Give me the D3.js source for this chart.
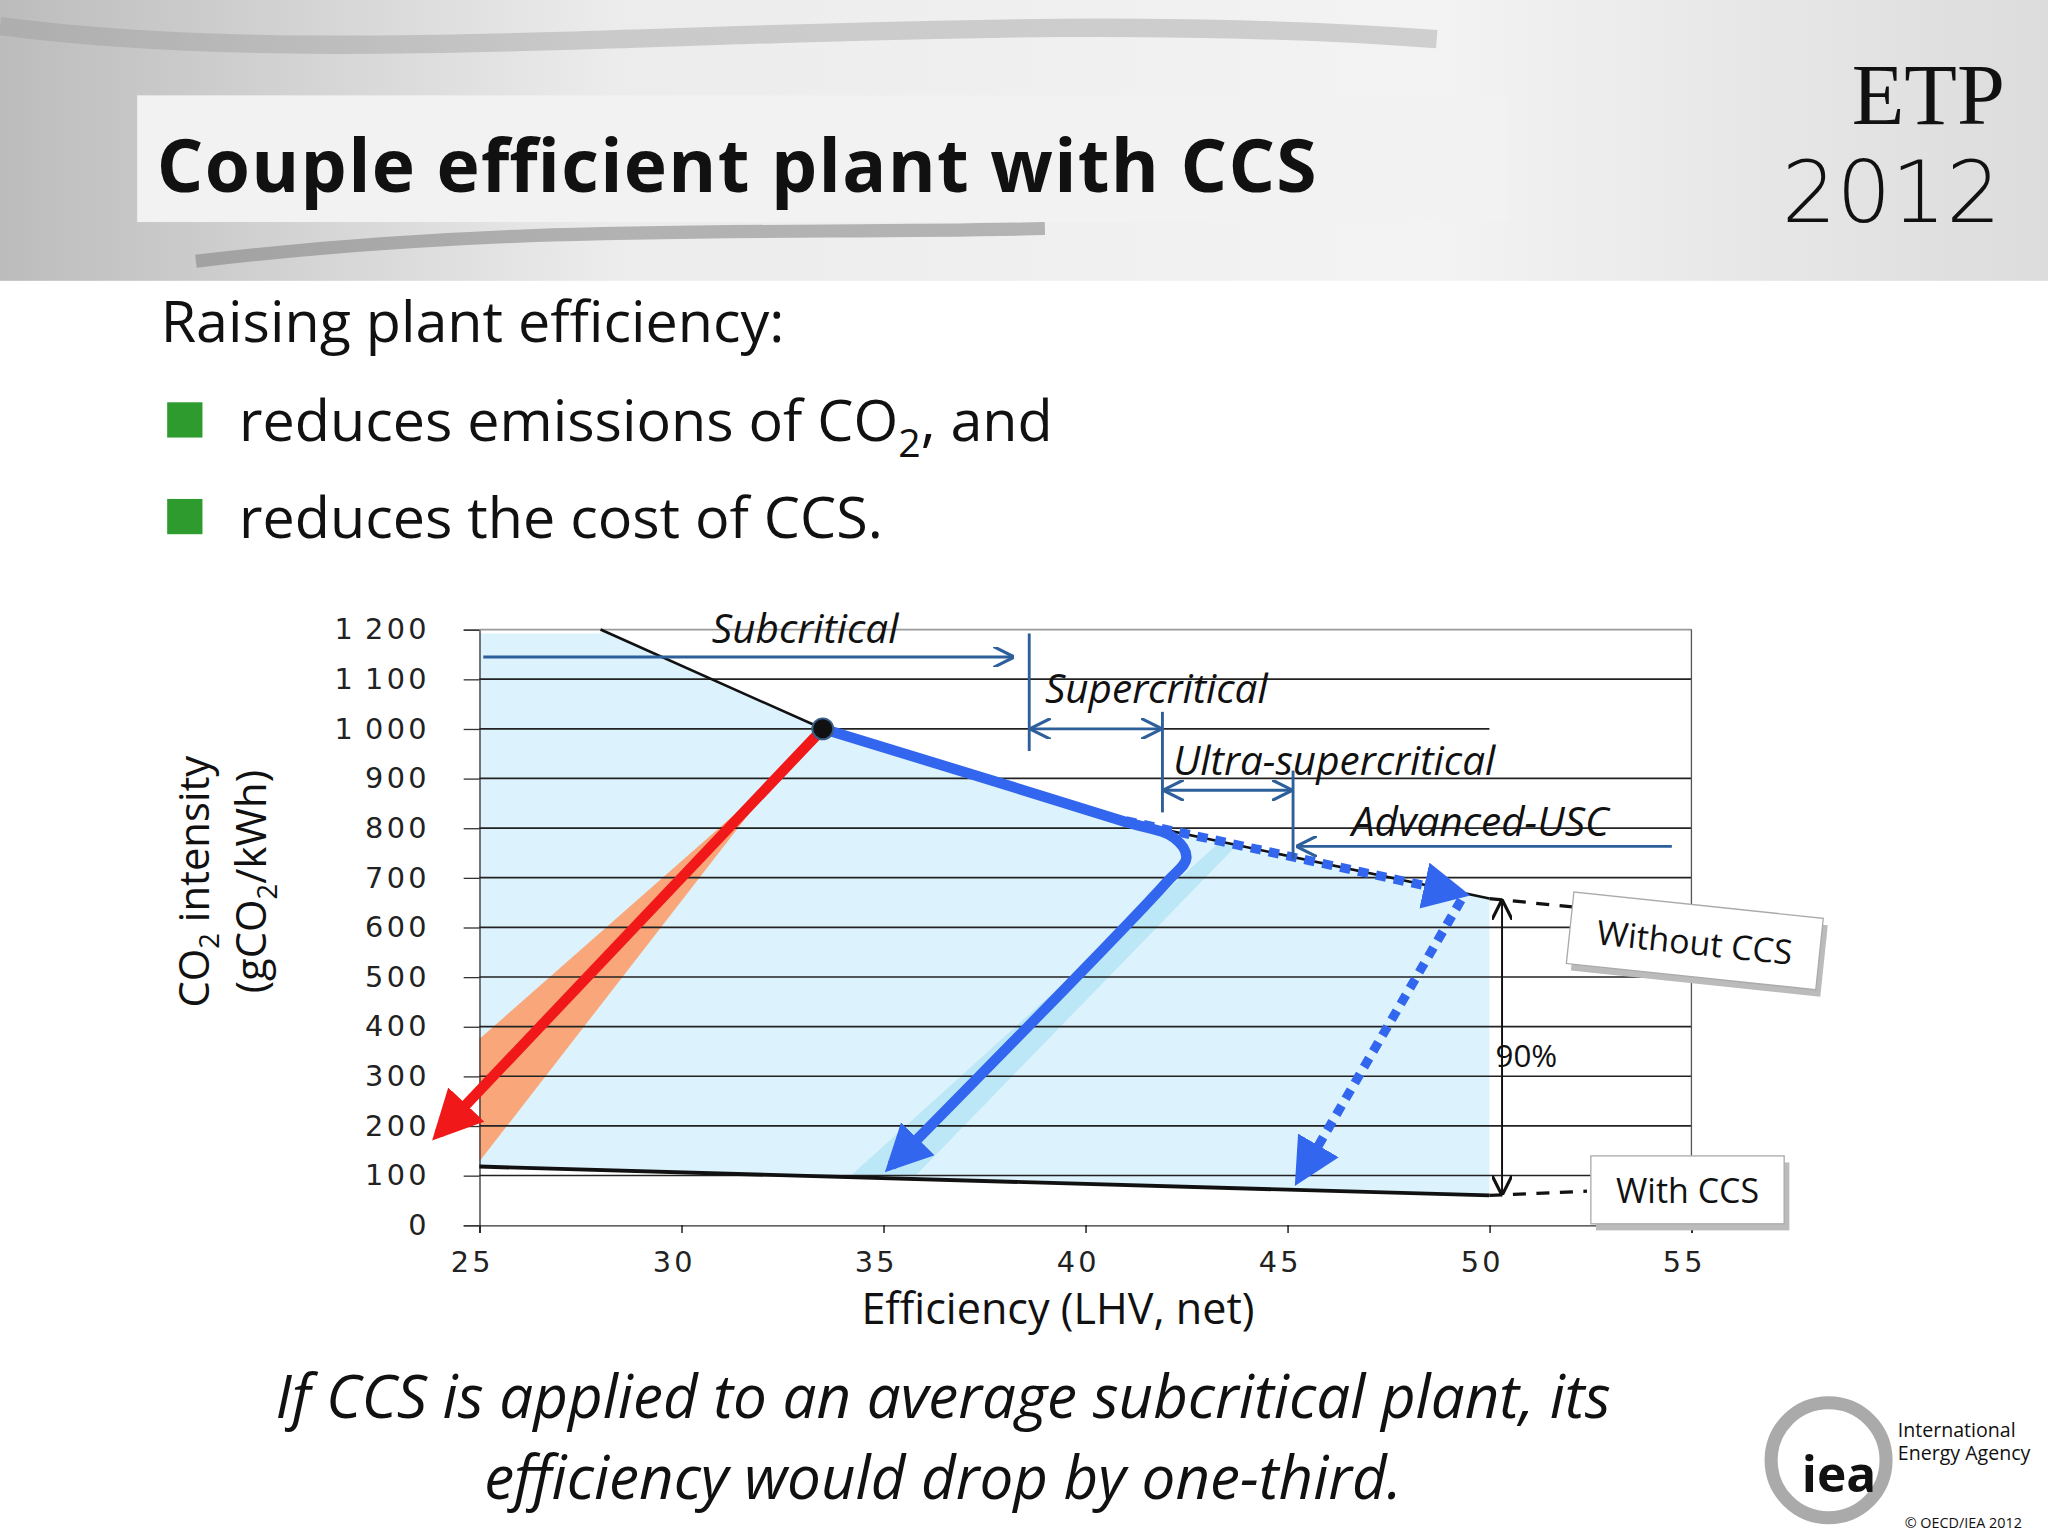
<!DOCTYPE html>
<html>
<head>
<meta charset="utf-8">
<script src="https://d3js.org/d3.v7.min.js"></script>
<style>
body { margin: 0; background: #fff; }
svg { display: block; }
text { font-family: 'Open Sans', sans-serif; fill: #111; }
.tick text { font-family: 'DejaVu Sans', sans-serif; font-size: 22px; fill: #222; letter-spacing: 2.5px; }
.lbl { font-style: italic; font-size: 31px; }
</style>
</head>
<body>
<svg id="chart" width="2048" height="1536" viewBox="0 0 1568 1176"></svg>
<script>
// tick values
const xTicks = [25, 30, 35, 40, 45, 50, 55]
const yTicks = [0, 100, 200, 300, 400, 500, 600, 700, 800, 900, 1000, 1100, 1200]

// curves (efficiency %, gCO2/kWh)
const withoutCcs = [[28, 1200], [33.5, 1000], [40.9, 815], [50, 658]]
const withCcs = [[25, 118], [50, 60]]
const orangeBand = [[25, 375], [32.4, 905], [25, 128]]
const redArrow = [[33.5, 1000], [24, 185]]
const blueArrow = [[33.5, 1000], [40.9, 815], [42.2, 780], [42.5, 740], [42, 690], [35.2, 120]]
const blueBand = [[43.3, 770], [43.8, 770], [35.8, 100], [34.2, 100]]
const dotTop = [[41, 815], [49.3, 668]]
const dotDown = [[49.3, 655], [45.3, 95]]

const svg = d3.select('#chart')
const x = d3.scaleLinear().domain([25, 55]).range([367, 1295])
const y = d3.scaleLinear().domain([0, 1200]).range([938, 482])
const line = d3.line().x(d => x(d[0])).y(d => y(d[1]))

// header
const defs = svg.append('defs')
const g1 = defs.append('linearGradient').attr('id', 'hdr')
g1.append('stop').attr('offset', '0').attr('stop-color', '#bcbcbc')
g1.append('stop').attr('offset', '0.3').attr('stop-color', '#ececec')
g1.append('stop').attr('offset', '0.7').attr('stop-color', '#f3f3f3')
g1.append('stop').attr('offset', '1').attr('stop-color', '#dcdcdc')
svg.append('rect').attr('width', 1568).attr('height', 215).attr('fill', 'url(#hdr)')
svg.append('path').attr('d', 'M0,20 C300,60 700,0 1100,30').attr('stroke', '#999').attr('stroke-width', 14).attr('fill', 'none').attr('opacity', 0.4)
svg.append('path').attr('d', 'M150,200 C400,170 600,180 800,175').attr('stroke', '#777').attr('stroke-width', 10).attr('fill', 'none').attr('opacity', 0.5)
svg.append('rect').attr('x', 105).attr('y', 73).attr('width', 1050).attr('height', 97).attr('fill', '#f2f2f2')
svg.append('text').attr('x', 120).attr('y', 147).attr('font-size', 56).attr('font-weight', 700).attr('textLength', 888).text('Couple efficient plant with CCS')
svg.append('text').attr('x', 1535).attr('y', 95).attr('text-anchor', 'end').attr('font-size', 66).style('font-family', "'Liberation Serif', serif").text('ETP')
svg.append('text').attr('x', 1532).attr('y', 170).attr('text-anchor', 'end').attr('font-size', 66).style('font-family', "'DejaVu Sans', sans-serif").attr('font-weight', 300).text('2012')

// bullets
svg.append('text').attr('x', 123).attr('y', 262).attr('font-size', 44).text('Raising plant efficiency:')
;[[338, 'reduces emissions of CO', true], [412, 'reduces the cost of CCS.', false]].forEach(b => {
  svg.append('rect').attr('x', 128).attr('y', b[0] - 30).attr('width', 27).attr('height', 27).attr('fill', '#2e9b2e')
  const t = svg.append('text').attr('x', 183).attr('y', b[0]).attr('font-size', 44).text(b[1])
  if (b[2]) {
    t.append('tspan').attr('font-size', 30).attr('dy', 12).text('2')
    t.append('tspan').attr('dy', -12).text(', and')
  }
})

// plot
svg.append('path').attr('d', 'M' + [[367, 485], [x(28), 485]].join('L') + 'L' + withoutCcs.map(d => [x(d[0]), y(d[1])]).join('L') + 'L' + [x(50), y(60)] + 'L' + [x(25), y(118)] + 'Z').attr('fill', '#dcf2fc')
svg.append('path').attr('d', line(orangeBand) + 'Z').attr('fill', '#f9a77a')
svg.append('path').attr('d', line(blueBand) + 'Z').attr('fill', '#b8e6f6').attr('opacity', 0.9)

svg.append('g').attr('transform', 'translate(0,938)')
  .call(d3.axisBottom(x).tickValues(xTicks).tickSize(6).tickPadding(14))
  .call(g => g.select('.domain').attr('stroke', '#333'))
  .call(g => g.selectAll('.tick text').attr('dx', -6))
svg.append('g').attr('transform', 'translate(367,0)')
  .call(d3.axisLeft(y).tickValues(yTicks).tickSize(12).tickPadding(26).tickFormat(d => d3.format(',')(d).replace(',', '\u2009')))
  .call(g => g.select('.domain').attr('stroke', '#333'))
  .call(g => g.selectAll('.tick line').attr('stroke', '#333'))
svg.append('g').selectAll('line').data(yTicks.slice(1)).join('line')
  .attr('x1', 367).attr('x2', d => (d === 1000 ? x(50) : 1295)).attr('y1', d => y(d)).attr('y2', d => y(d))
  .attr('stroke', d => (d === 1200 ? '#999' : '#222')).attr('stroke-width', 1.3)
svg.append('line').attr('x1', 1295).attr('x2', 1295).attr('y1', 482).attr('y2', 938).attr('stroke', '#555')

svg.append('path').attr('d', line(withoutCcs)).attr('fill', 'none').attr('stroke', '#111').attr('stroke-width', 2)
svg.append('path').attr('d', line(withCcs)).attr('fill', 'none').attr('stroke', '#111').attr('stroke-width', 3)
svg.append('line').attr('x1', x(50)).attr('y1', y(658)).attr('x2', 1210).attr('y2', 695).attr('stroke', '#111').attr('stroke-width', 2.5).attr('stroke-dasharray', '10,8')
svg.append('line').attr('x1', x(50)).attr('y1', y(60)).attr('x2', 1215).attr('y2', 912).attr('stroke', '#111').attr('stroke-width', 2.5).attr('stroke-dasharray', '10,8')

function head(id, color, size) {
  defs.append('marker').attr('id', id).attr('viewBox', '0 0 10 10').attr('refX', 8).attr('refY', 5)
    .attr('markerWidth', size).attr('markerHeight', size).attr('orient', 'auto-start-reverse').attr('markerUnits', 'userSpaceOnUse')
    .append('path').attr('d', 'M0,0L10,5L0,10Z').attr('fill', color)
}
head('red', '#f01818', 38)
head('blue', '#3366ee', 36)

svg.append('path').attr('d', line(redArrow)).attr('stroke', '#f01818').attr('stroke-width', 8).attr('fill', 'none').attr('marker-end', 'url(#red)')
svg.append('path').attr('d', d3.line().x(d => x(d[0])).y(d => y(d[1])).curve(d3.curveCatmullRom)(blueArrow)).attr('stroke', '#3366ee').attr('stroke-width', 8).attr('fill', 'none').attr('marker-end', 'url(#blue)')
svg.append('path').attr('d', line(dotTop)).attr('stroke', '#3366ee').attr('stroke-width', 7).attr('stroke-dasharray', '8,6').attr('fill', 'none').attr('marker-end', 'url(#blue)')
svg.append('path').attr('d', line(dotDown)).attr('stroke', '#3366ee').attr('stroke-width', 7).attr('stroke-dasharray', '8,6').attr('fill', 'none').attr('marker-end', 'url(#blue)')
svg.append('circle').attr('cx', x(33.5)).attr('cy', y(1000)).attr('r', 8).attr('fill', '#111').attr('stroke', '#3a5f8a').attr('stroke-width', 1.5)

// technology ranges
const ac = '#2d5f9a'
defs.append('marker').attr('id', 'openh').attr('viewBox', '0 0 10 10').attr('refX', 9).attr('refY', 5)
  .attr('markerWidth', 16).attr('markerHeight', 16).attr('orient', 'auto-start-reverse').attr('markerUnits', 'userSpaceOnUse')
  .append('path').attr('d', 'M0,0L10,5L0,10').attr('fill', 'none').attr('stroke', ac).attr('stroke-width', 1.5)
function seg(x1, y1, x2, y2, s, e) {
  const l = svg.append('line').attr('x1', x1).attr('y1', y1).attr('x2', x2).attr('y2', y2).attr('stroke', ac).attr('stroke-width', 2.2)
  if (s) l.attr('marker-start', 'url(#openh)')
  if (e) l.attr('marker-end', 'url(#openh)')
}
seg(370, 503, 775, 503, false, true)
seg(788, 485, 788, 575)
seg(790, 558, 888, 558, true, true)
seg(890, 545, 890, 622)
seg(892, 605, 988, 605, true, true)
seg(990, 590, 990, 658)
seg(1280, 648, 994, 648, false, true)
svg.append('text').attr('class', 'lbl').attr('x', 545).attr('y', 492).text('Subcritical')
svg.append('text').attr('class', 'lbl').attr('x', 800).attr('y', 538).text('Supercritical')
svg.append('text').attr('class', 'lbl').attr('x', 898).attr('y', 593).text('Ultra-supercritical')
svg.append('text').attr('class', 'lbl').attr('x', 1035).attr('y', 640).text('Advanced-USC')

// 90% annotation
defs.append('marker').attr('id', 'blk').attr('viewBox', '0 0 10 10').attr('refX', 9).attr('refY', 5)
  .attr('markerWidth', 16).attr('markerHeight', 16).attr('orient', 'auto-start-reverse').attr('markerUnits', 'userSpaceOnUse')
  .append('path').attr('d', 'M0,0L10,5L0,10').attr('fill', 'none').attr('stroke', '#111').attr('stroke-width', 1.5)
svg.append('line').attr('x1', 1150).attr('x2', 1150).attr('y1', y(652)).attr('y2', y(64)).attr('stroke', '#111').attr('stroke-width', 1.5).attr('marker-start', 'url(#blk)').attr('marker-end', 'url(#blk)')
svg.append('text').attr('x', 1145).attr('y', 817).attr('font-size', 24).text('90%')

// boxes
const b1 = svg.append('g').attr('transform', 'translate(1205,683) rotate(6)')
b1.append('rect').attr('x', 4).attr('y', 5).attr('width', 192).attr('height', 55).attr('fill', '#bbb')
b1.append('rect').attr('width', 192).attr('height', 55).attr('fill', '#fff').attr('stroke', '#aaa')
b1.append('text').attr('x', 96).attr('y', 38).attr('text-anchor', 'middle').attr('font-size', 26).text('Without CCS')
const b2 = svg.append('g').attr('transform', 'translate(1218,885)')
b2.append('rect').attr('x', 4).attr('y', 5).attr('width', 148).attr('height', 52).attr('fill', '#bbb')
b2.append('rect').attr('width', 148).attr('height', 52).attr('fill', '#fff').attr('stroke', '#aaa')
b2.append('text').attr('x', 74).attr('y', 36).attr('text-anchor', 'middle').attr('font-size', 26).text('With CCS')

// axis titles
svg.append('text').attr('x', 810).attr('y', 1014).attr('text-anchor', 'middle').attr('font-size', 33).text('Efficiency (LHV, net)')
const yt = svg.append('g').attr('transform', 'translate(0,675) rotate(-90)')
const t1 = yt.append('text').attr('x', 0).attr('y', 160).attr('text-anchor', 'middle').attr('font-size', 32).text('CO')
t1.append('tspan').attr('font-size', 21).attr('dy', 8).text('2')
t1.append('tspan').attr('dy', -8).text(' intensity')
const t2 = yt.append('text').attr('x', 0).attr('y', 204).attr('text-anchor', 'middle').attr('font-size', 32).text('(gCO')
t2.append('tspan').attr('font-size', 21).attr('dy', 8).text('2')
t2.append('tspan').attr('dy', -8).text('/kWh)')

// footer
svg.append('text').attr('x', 722).attr('y', 1086).attr('text-anchor', 'middle').attr('font-size', 46).attr('font-style', 'italic').text('If CCS is applied to an average subcritical plant, its')
svg.append('text').attr('x', 722).attr('y', 1148).attr('text-anchor', 'middle').attr('font-size', 46).attr('font-style', 'italic').text('efficiency would drop by one-third.')
svg.append('circle').attr('cx', 1400).attr('cy', 1118).attr('r', 44).attr('fill', 'none').attr('stroke', '#aaa').attr('stroke-width', 10)
svg.append('text').attr('x', 1408).attr('y', 1142).attr('text-anchor', 'middle').attr('font-size', 38).attr('font-weight', 700).attr('fill', '#333').text('iea')
svg.append('text').attr('x', 1453).attr('y', 1100).attr('font-size', 15).attr('fill', '#444').text('International')
svg.append('text').attr('x', 1453).attr('y', 1118).attr('font-size', 15).attr('fill', '#444').text('Energy Agency')
svg.append('text').attr('x', 1548).attr('y', 1170).attr('text-anchor', 'end').attr('font-size', 11).attr('fill', '#333').text('© OECD/IEA 2012')
</script>
</body>
</html>
